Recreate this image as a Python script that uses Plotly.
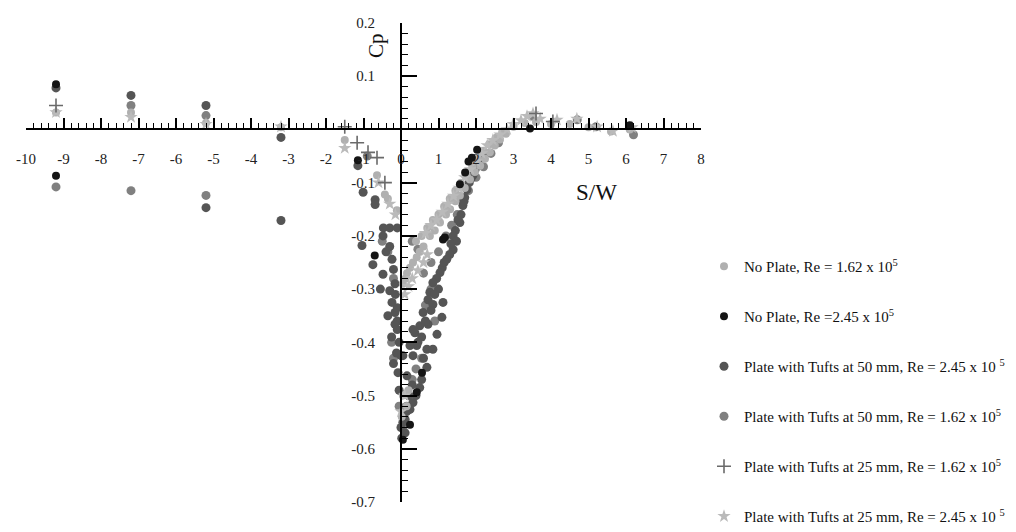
import plotly.graph_objects as go

# ---------------- data ----------------
# No Plate, Re = 1.62e5  (light grey dots)
np162_x = [-9.2, -7.2, -5.2, -3.2, -1.5, -0.64, -0.43, -0.35, -0.11, 0.05, 0.12, 0.16, 0.24, 0.32, 0.42,
           0.5, 0.6, 0.77, 0.9, 1.04, 1.2, 1.31, 1.45, 1.57, 1.7, 1.84, 1.97, 2.11, 2.24, 2.37, 2.5,
           2.64, 2.8, 3.0, 3.3, 3.6, 4.0, 4.5, 5.0, 5.6, 6.1, 0.05, 0.15, 0.2, 0.02,
           0.4, 0.55, 0.7, 0.85, 1.0, 1.15, 1.3, 1.45, 1.6, 1.75, 1.9, 2.05, 2.2, 2.35, 2.55, 2.7]
np162_y = [0.032, 0.032, 0.012, 0.004, -0.02, -0.086, -0.122, -0.13, -0.152, -0.29, -0.28, -0.27, -0.26,
           -0.25, -0.24, -0.23, -0.22, -0.2, -0.19, -0.175, -0.16, -0.15, -0.135, -0.124, -0.11, -0.094,
           -0.08, -0.068, -0.055, -0.043, -0.03, -0.019, -0.008, 0.005, 0.012, 0.014, 0.01, 0.01, 0.004,
           -0.004, 0.0, -0.5, -0.52, -0.49, -0.54,
           -0.21, -0.2, -0.185, -0.17, -0.16, -0.145, -0.13, -0.115, -0.1, -0.085, -0.07, -0.055, -0.04,
           -0.028, -0.015, -0.005]

# No Plate, Re = 2.45e5  (black dots)
np245_x = [-9.2, -9.2, -1.15, -0.7, 1.12, 1.17, 2.03, 1.89, 1.71, 1.57, 0.56, 0.42, 0.24, 0.05, 3.44, 6.1, 1.8]
np245_y = [0.085, -0.087, -0.058, -0.237, -0.207, -0.203, -0.038, -0.053, -0.081, -0.103, -0.457, -0.494,
           -0.555, -0.583, 0.002, 0.008, -0.06]

# Plate with Tufts at 50 mm, Re = 2.45e5  (dark grey dots)
t50_245_x = [-9.2, -7.2, -5.2, -5.2, -3.2, -3.2, -1.15, -1.01, -0.69, -0.69,
             2.19, 2.05, 1.92, 1.82, 1.76, 1.7, 1.65, 1.6, 1.57, 1.45, 1.39, 1.39, 1.3, 1.22, 1.1, 1.04,
             0.95, 0.85, 0.77, 0.72, 1.12, 1.09, 0.96, 0.85, 0.72, 0.59, 0.5, 0.37, 0.32, 0.69, 0.85,
             0.69, 0.5, 0.32, 0.24, 0.11, 0.11, 0.42, 0.24, 0.32, 0.05, 0.16, -0.08,
             -0.47, -0.3, -0.1, -0.48, -1.04, -0.75, -0.24, -0.2, -0.48, -0.16, -0.3, -0.24, -0.16,
             -0.1, -0.16, -0.1, -0.1, -0.05, 0.0,
             2.1, 1.98, 1.87, 1.68, 1.52, 1.48, 1.33, 1.15, 1.0, 0.9, 0.8, 0.65, 0.55, 0.45, 0.6, 0.55,
             0.4, 0.3, 0.2, 0.15, 0.05, 0.0, 0.02, -0.05, -0.12, -0.2, -0.25, -0.3, -0.4, -0.55, -0.35,
             -0.15]
t50_245_y = [0.078, 0.064, 0.045, -0.147, -0.015, -0.171, -0.068, -0.118, -0.132, -0.141,
             -0.049, -0.065, -0.086, -0.1, -0.113, -0.128, -0.143, -0.16, -0.175, -0.19, -0.2, -0.226,
             -0.235, -0.244, -0.26, -0.269, -0.28, -0.288, -0.306, -0.32, -0.325, -0.353, -0.385,
             -0.329, -0.366, -0.344, -0.369, -0.382, -0.376, -0.413, -0.413, -0.447, -0.485, -0.513,
             -0.526, -0.545, -0.57, -0.406, -0.406, -0.425, -0.425, -0.463, -0.457,
             -0.185, -0.185, -0.185, -0.2, -0.218, -0.254, -0.244, -0.263, -0.272, -0.29, -0.303,
             -0.325, -0.344, -0.36, -0.366, -0.376, -0.335, -0.49, -0.425,
             -0.055, -0.075, -0.092, -0.135, -0.17, -0.21, -0.215, -0.25, -0.3, -0.31, -0.34, -0.36,
             -0.39, -0.4, -0.43, -0.47, -0.5, -0.48, -0.5, -0.53, -0.55, -0.56, -0.58, -0.4, -0.42,
             -0.44, -0.39, -0.22, -0.23, -0.3, -0.35, -0.31]

# Plate with Tufts at 50 mm, Re = 1.62e5  (grey dots)
t50_162_x = [-9.2, -7.2, -7.2, -5.2, -5.2, -0.9, -0.5, -0.35, -0.2, 0.3, 0.45, 0.6, 0.8, 1.0, 1.2,
             1.35, 1.5, 1.65, 1.8, 2.0, 2.2, 2.4, 2.6, 0.65, 0.8, 0.9, 0.55, 0.4, 0.3, 0.2, 0.15,
             -0.25, -0.2, -0.05, 0.05, 3.5, 4.7, 5.2, 6.2]
t50_162_y = [-0.108, 0.045, -0.115, 0.026, -0.124, -0.05, -0.21, -0.23, -0.28, -0.21, -0.225,
             -0.27, -0.25, -0.23, -0.2, -0.18, -0.16, -0.135, -0.115, -0.09, -0.07, -0.045, -0.025,
             -0.33, -0.3, -0.36, -0.43, -0.45, -0.47, -0.5, -0.52, -0.4, -0.43, -0.52, -0.56,
             0.025, 0.018, 0.005, -0.01]

# Plate with Tufts at 25 mm, Re = 1.62e5  (crosses)
t25_162_x = [-9.2, -1.17, -0.88, -0.64, -0.43, -1.5, 4.05, 3.6]
t25_162_y = [0.045, -0.025, -0.043, -0.053, -0.1, 0.005, 0.015, 0.03]

# Plate with Tufts at 25 mm, Re = 2.45e5  (light stars)
t25_245_x = [-9.2, -7.2, -5.2, -3.2, -1.5, -0.6, -0.3, -0.15, 0.1, 0.2, 0.3, 0.45, 0.6, 0.7,
             3.2, 3.36, 3.52, 3.71, 4.16, 4.69, 5.23, 5.65, 6.16, 2.99, 2.83, 2.64, 2.45, 2.3, 2.15,
             2.0, 1.85, 1.7, 1.55, 1.4, 1.25, 1.1, 0.95, 0.8, 0.65, 0.0, 0.1]
t25_245_y = [0.032, 0.023, 0.01, 0.005, -0.035, -0.1, -0.14, -0.16, -0.31, -0.295, -0.28, -0.265,
             -0.25, -0.235, 0.017, 0.025, 0.03, 0.02, 0.018, 0.02, 0.005, -0.003, 0.004, 0.01, 0.0,
             -0.01, -0.02, -0.03, -0.045, -0.06, -0.075, -0.09, -0.11, -0.125, -0.14, -0.155, -0.17,
             -0.18, -0.195, -0.53, -0.5]

series_names = [
    "No Plate, Re = 1.62 x 10<sup>5</sup>",
    "No Plate, Re =2.45 x 10<sup>5</sup>",
    "Plate with Tufts at 50 mm, Re = 2.45 x 10 <sup>5</sup>",
    "Plate with Tufts at 50 mm, Re = 1.62 x 10<sup>5</sup>",
    "Plate with Tufts at 25 mm, Re = 1.62 x 10<sup>5</sup>",
    "Plate with Tufts at 25 mm, Re = 2.45 x 10 <sup>5</sup>",
]

x_ticks = list(range(-10, 9))
x_ticktext = [str(v) for v in x_ticks]
y_ticks = [0.2, 0.1, -0.1, -0.2, -0.3, -0.4, -0.5, -0.6, -0.7]
y_ticktext = ["0.2", "0.1", "-0.1", "-0.2", "-0.3", "-0.4", "-0.5", "-0.6", "-0.7"]

# ---------------- figure ----------------
FONT = "Liberation Serif, Times New Roman, serif"
OFF = 8                      # the page body adds an 8 px margin around the figure
W, H = 1016, 570             # taller than the window so the legend is never clipped
ML, MR, MT, MB = 26 - OFF, 5, 23 - OFF, 5
plot_w = W - ML - MR
plot_h = H - MT - MB
x_dom_end = (701 - OFF - ML) / plot_w           # x = 8 sits at 701 px on screen
y_dom_start = (H - MB - (502 - OFF)) / plot_h   # y = -0.7 sits at 502 px on screen
x0_frac = x_dom_end * 10 / 18
y0_frac = y_dom_start + (1 - y_dom_start) * 0.7 / 0.9

fig = go.Figure()

styles = [
    dict(symbol="circle", size=8, color="#b0b0b0"),
    dict(symbol="circle", size=8, color="#151515"),
    dict(symbol="circle", size=9, color="#555555"),
    dict(symbol="circle", size=9, color="#808080"),
    dict(symbol="cross-thin-open", size=10, color="#6a6a6a", line=dict(width=1.6, color="#6a6a6a")),
    dict(symbol="star", size=10, color="#bababa"),
]
data = [(np162_x, np162_y), (np245_x, np245_y), (t50_245_x, t50_245_y),
        (t50_162_x, t50_162_y), (t25_162_x, t25_162_y), (t25_245_x, t25_245_y)]
order = [3, 2, 0, 5, 1, 4]
for i in order:
    xs, ys = data[i]
    fig.add_trace(go.Scatter(
        x=xs, y=ys, mode="markers", name=series_names[i],
        legendgroup=f"g{i}", legendrank=i + 1,
        marker=dict(styles[i]),
    ))

axis_common = dict(showgrid=False, zeroline=False, showline=True, linecolor="black", linewidth=2,
                   tickcolor="black", tickfont=dict(family=FONT, size=15, color="#222"),
                   anchor="free", automargin=False)
fig.update_layout(
    width=W, height=H,
    margin=dict(l=ML, r=MR, t=MT, b=MB, autoexpand=False),
    paper_bgcolor="white", plot_bgcolor="white",
    xaxis=dict(range=[-10, 8], domain=[0, x_dom_end], tickmode="array", tickvals=x_ticks,
               ticktext=x_ticktext, ticks="inside", ticklen=10, tickwidth=1.5, position=y0_frac,
               ticklabelstandoff=16,
               minor=dict(dtick=0.2, tick0=0, ticks="inside", ticklen=5, tickcolor="black", tickwidth=1),
               **axis_common),
    yaxis=dict(range=[-0.7, 0.2], domain=[y_dom_start, 1], tickmode="array", tickvals=y_ticks,
               ticktext=y_ticktext, ticks="inside", ticklen=15, tickwidth=1.5, position=x0_frac,
               ticklabelstandoff=22,
               minor=dict(dtick=0.02, tick0=0, ticks="inside", ticklen=6, tickcolor="black", tickwidth=1),
               **axis_common),
    legend=dict(xref="container", yref="container", x=(704 - OFF) / W, xanchor="left",
                y=1 - (250 - OFF) / H, yanchor="top",
                bgcolor="rgba(0,0,0,0)", maxheight=400,
                font=dict(family=FONT, size=15, color="#111"), tracegroupgap=27.5,
                itemsizing="trace", itemwidth=30),
    showlegend=True,
    annotations=[
        dict(text="Cp", x=-0.65, y=0.158, xref="x", yref="y", showarrow=False, textangle=-90,
             font=dict(family=FONT, size=21, color="#111")),
        dict(text="S/W", x=5.2, y=-0.118, xref="x", yref="y", showarrow=False,
             font=dict(family=FONT, size=23, color="#111")),
    ],
)

fig.write_html("out.html")
